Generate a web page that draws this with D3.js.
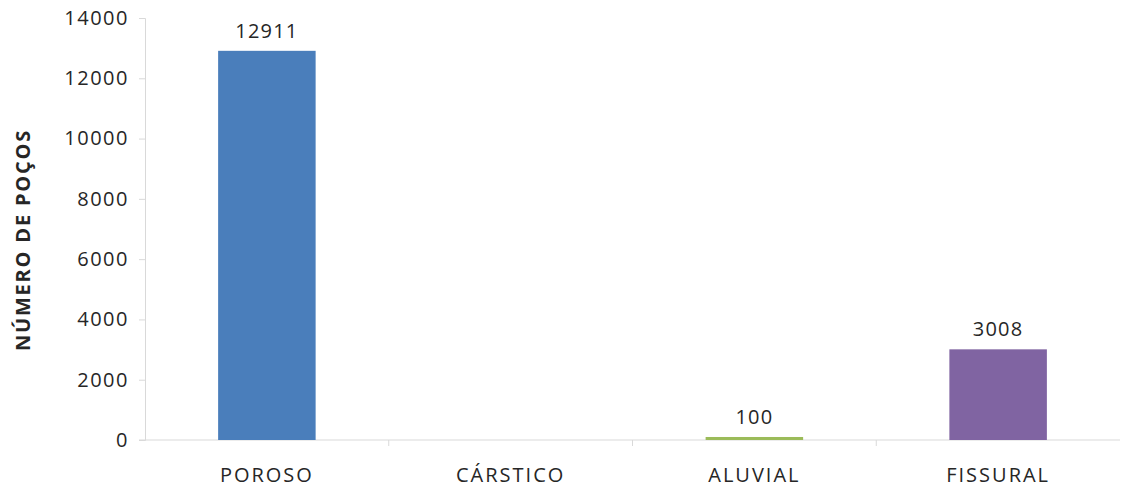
<!DOCTYPE html>
<html><head><meta charset="utf-8">
<script src="https://cdn.jsdelivr.net/npm/d3@7"></script>
<style>body{margin:0;background:#fff}svg{display:block}</style>
</head><body><svg id="c" width="1125" height="490"></svg>
<script>
const categories = ["POROSO", "CÁRSTICO", "ALUVIAL", "FISSURAL"];
const values = [12911, 0, 100, 3008];
const colors = ["#4a7ebb", "#4a7ebb", "#9bbb59", "#8064a2"];
const yTicks = [0, 2000, 4000, 6000, 8000, 10000, 12000, 14000];
const yTitle = "NÚMERO DE POÇOS";

const svg = d3.select("#c");
const m = {l: 145, r: 5, t: 18, b: 50};
const W = 1125, H = 490;
const x = d3.scaleBand().domain(categories).range([m.l, W - m.r]).paddingInner(0.6).paddingOuter(0.3);
const xb = d3.scaleBand().domain(categories).range([m.l, W - m.r]);
const y = d3.scaleLinear().domain([0, 14000]).range([H - m.b, m.t]);
const font = "'Open Sans', sans-serif";
const axisCol = "#d9d9d9", textCol = "#262626";

// y axis
const ya = svg.append("g").attr("transform", `translate(${m.l},0)`)
  .call(d3.axisLeft(y).tickValues(yTicks).tickSize(6).tickPadding(10).tickFormat(d3.format("d")));
ya.select(".domain").attr("stroke", axisCol);
ya.selectAll(".tick line").attr("stroke", axisCol);
ya.selectAll("text").attr("fill", textCol).style("font-family", font).style("font-size", "20px")
  .style("letter-spacing", "1.5px");

// x axis
const xa = svg.append("g").attr("transform", `translate(0,${y(0)})`)
  .call(d3.axisBottom(xb).tickSize(0).tickPadding(28));
xa.select(".domain").attr("stroke", axisCol).attr("d", `M${m.l - 6},0H${W - m.r}`);
xa.selectAll("text").attr("fill", textCol).style("font-family", font).style("font-size", "20px")
  .style("letter-spacing", "2px");
// boundary ticks
xa.selectAll(".bt").data(categories.slice(1)).enter().append("line")
  .attr("x1", d => xb(d)).attr("x2", d => xb(d)).attr("y1", 0).attr("y2", 6).attr("stroke", axisCol);

// bars
svg.selectAll(".bar").data(categories).enter().append("rect")
  .attr("x", d => x(d)).attr("width", x.bandwidth())
  .attr("y", (d, i) => y(values[i])).attr("height", (d, i) => y(0) - y(values[i]))
  .attr("fill", (d, i) => colors[i]);

// labels
svg.selectAll(".lbl").data(categories.filter((d, i) => values[i] > 0)).enter().append("text")
  .attr("x", d => x(d) + x.bandwidth() / 2)
  .attr("y", d => y(values[categories.indexOf(d)]) - 13)
  .attr("text-anchor", "middle").attr("fill", textCol)
  .style("font-family", font).style("font-size", "20px").style("letter-spacing", "1.2px")
  .text(d => values[categories.indexOf(d)]);

// y title
svg.append("text").attr("transform", `translate(30,240) rotate(-90)`)
  .attr("text-anchor", "middle").attr("fill", textCol)
  .style("font-family", font).style("font-size", "20px").style("font-weight", "bold")
  .style("letter-spacing", "1.8px")
  .text(yTitle);
</script></body></html>
